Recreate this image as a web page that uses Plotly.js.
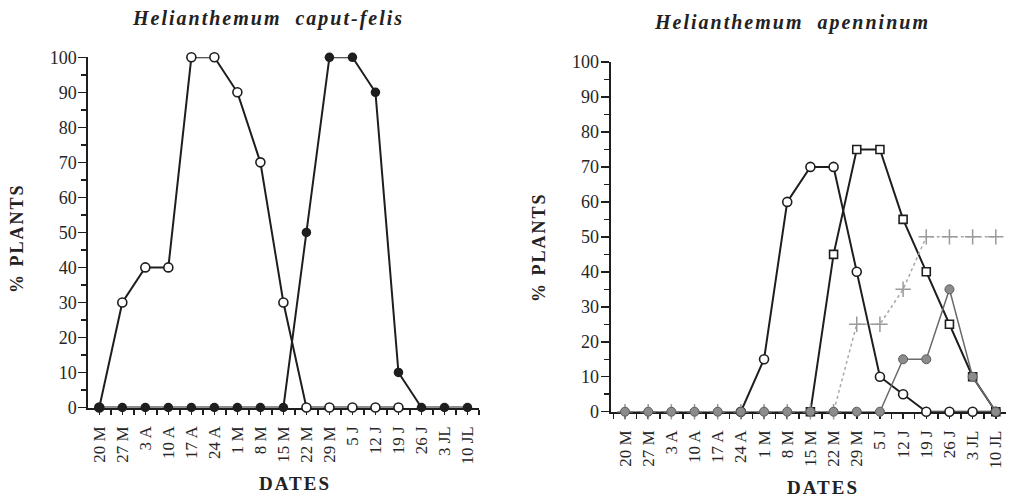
<!DOCTYPE html>
<html>
<head>
<meta charset="utf-8">
<script src="https://cdn.plot.ly/plotly-3.0.1.min.js"></script>
<style>
  html, body { margin: 0; padding: 0; background: #fff; }
  #chart { width: 1015px; height: 497px; }
  .annotation text { letter-spacing: 2px; }
</style>
</head>
<body>
<div id="chart"></div>
<script>
// ---- data ----
const dates = ['20 M','27 M','3 A','10 A','17 A','24 A','1 M','8 M','15 M','22 M','29 M','5 J','12 J','19 J','26 J','3 JL','10 JL'];
// Helianthemum caput-felis
const caputOpen   = [0,30,40,40,100,100,90,70,30,0,0,0,0,0,null,null,null];
const caputFilled = [0,0,0,0,0,0,0,0,0,50,100,100,90,10,0,0,0];
// Helianthemum apenninum
const apenCircles = [null,null,null,null,null,0,15,60,70,70,40,10,5,0,0,0,0];
const apenSquares = [null,null,null,null,null,null,null,null,0,45,75,75,55,40,25,10,0];
const apenCrosses = [0,0,0,0,0,0,0,0,0,0,25,25,35,50,50,50,50];
const apenDark    = [0,0,0,0,0,0,0,0,0,0,0,0,15,15,35,10,0];
const yTicks = [0,10,20,30,40,50,60,70,80,90,100];

const idx = dates.map((d, i) => i);
const W = 1015, H = 497;
const px = v => v / W, py = v => 1 - v / H;

const ink = '#1e1e1e';
const serif = 'Liberation Serif, Times New Roman, serif';

function tr(y, xa, ya, opts) {
  return Object.assign({x: idx, y: y, xaxis: xa, yaxis: ya, type: 'scatter', mode: 'lines+markers',
    cliponaxis: false, connectgaps: false, hoverinfo: 'skip', showlegend: false}, opts);
}
const openMarker = {symbol: 'circle', size: 9, color: '#fff', line: {color: ink, width: 1.6}};

const traces = [
  tr(caputOpen, 'x', 'y', {line: {color: ink, width: 2}, marker: openMarker}),
  tr(caputFilled, 'x', 'y', {line: {color: ink, width: 2}, marker: {symbol: 'circle', size: 9.5, color: ink}}),
  tr(apenCircles, 'x2', 'y2', {line: {color: ink, width: 2}, marker: openMarker}),
  tr(apenSquares, 'x2', 'y2', {line: {color: ink, width: 2}, marker: {symbol: 'square', size: 8, color: '#fff', line: {color: ink, width: 1.6}}}),
  tr(apenCrosses, 'x2', 'y2', {line: {color: '#a8a8a8', width: 1.5, dash: 'dot'}, marker: {symbol: 'cross-thin-open', size: 11, color: '#9a9a9a', line: {color: '#9a9a9a', width: 1.5}}}),
  tr(apenDark, 'x2', 'y2', {line: {color: '#6a6a6a', width: 1.5}, marker: {symbol: 'circle', size: 9, color: '#8c8c8c', line: {color: '#5c5c5c', width: 1}}})
];

function xAxis(domain, range, anchor) {
  return {domain: domain, range: range, anchor: anchor, showline: true, linewidth: 2, linecolor: ink,
    showgrid: false, zeroline: false, layer: 'below traces',
    tickmode: 'array', tickvals: idx, ticktext: dates, tickangle: -90,
    ticks: 'outside', ticklen: 5, tickwidth: 1.5, tickcolor: ink, ticklabelstandoff: 5,
    tickfont: {family: serif, size: 17, color: '#262626'},
    minor: {tickmode: 'linear', tick0: 0.5, dtick: 1, ticks: 'outside', ticklen: 5, tickwidth: 1.5, tickcolor: ink},
    fixedrange: true};
}
function yAxis(domain, anchor) {
  return {domain: domain, range: [0, 100], anchor: anchor, showline: true, linewidth: 2, linecolor: ink,
    showgrid: false, zeroline: false, layer: 'below traces',
    tickmode: 'array', tickvals: yTicks,
    ticks: 'outside', ticklen: 8, tickwidth: 1.5, tickcolor: ink, ticklabelstandoff: -2,
    tickfont: {family: serif, size: 18, color: '#262626'},
    minor: {tickmode: 'linear', tick0: 5, dtick: 10, ticks: 'outside', ticklen: 5, tickwidth: 1.5, tickcolor: ink},
    fixedrange: true};
}

const titleFont = {family: serif, size: 20, weight: 'bold', style: 'italic', color: '#222'};
const axFont = {family: serif, size: 18, weight: 'bold', color: '#222'};
function ann(text, x, y, font, angle) {
  return {text: text, xref: 'paper', yref: 'paper', x: px(x), y: py(y), xanchor: 'center', yanchor: 'middle',
    showarrow: false, font: font, textangle: angle || 0};
}

const layout = {
  width: W, height: H,
  margin: {l: 0, r: 0, t: 0, b: 0},
  paper_bgcolor: '#fff', plot_bgcolor: 'rgba(0,0,0,0)',
  xaxis: xAxis([px(88.3), px(479)], [-0.478, 16.5], 'y'),
  yaxis: yAxis([py(407.5), py(57.3)], 'x'),
  xaxis2: xAxis([px(610.5), px(1006)], [-0.626, 16.44], 'y2'),
  yaxis2: yAxis([py(411.7), py(62)], 'x2'),
  annotations: [
    ann('Helianthemum\u00a0\u00a0caput-felis', 268, 18, titleFont),
    ann('Helianthemum\u00a0\u00a0apenninum', 792, 23, titleFont),
    ann('DATES', 295, 483, Object.assign({}, axFont, {size: 19})),
    ann('DATES', 823, 487, Object.assign({}, axFont, {size: 19})),
    ann('% PLANTS', 17, 238, axFont, -90),
    ann('% PLANTS', 539, 247, axFont, -90)
  ]
};

Plotly.newPlot('chart', traces, layout, {staticPlot: true, displayModeBar: false});
</script>
</body>
</html>
